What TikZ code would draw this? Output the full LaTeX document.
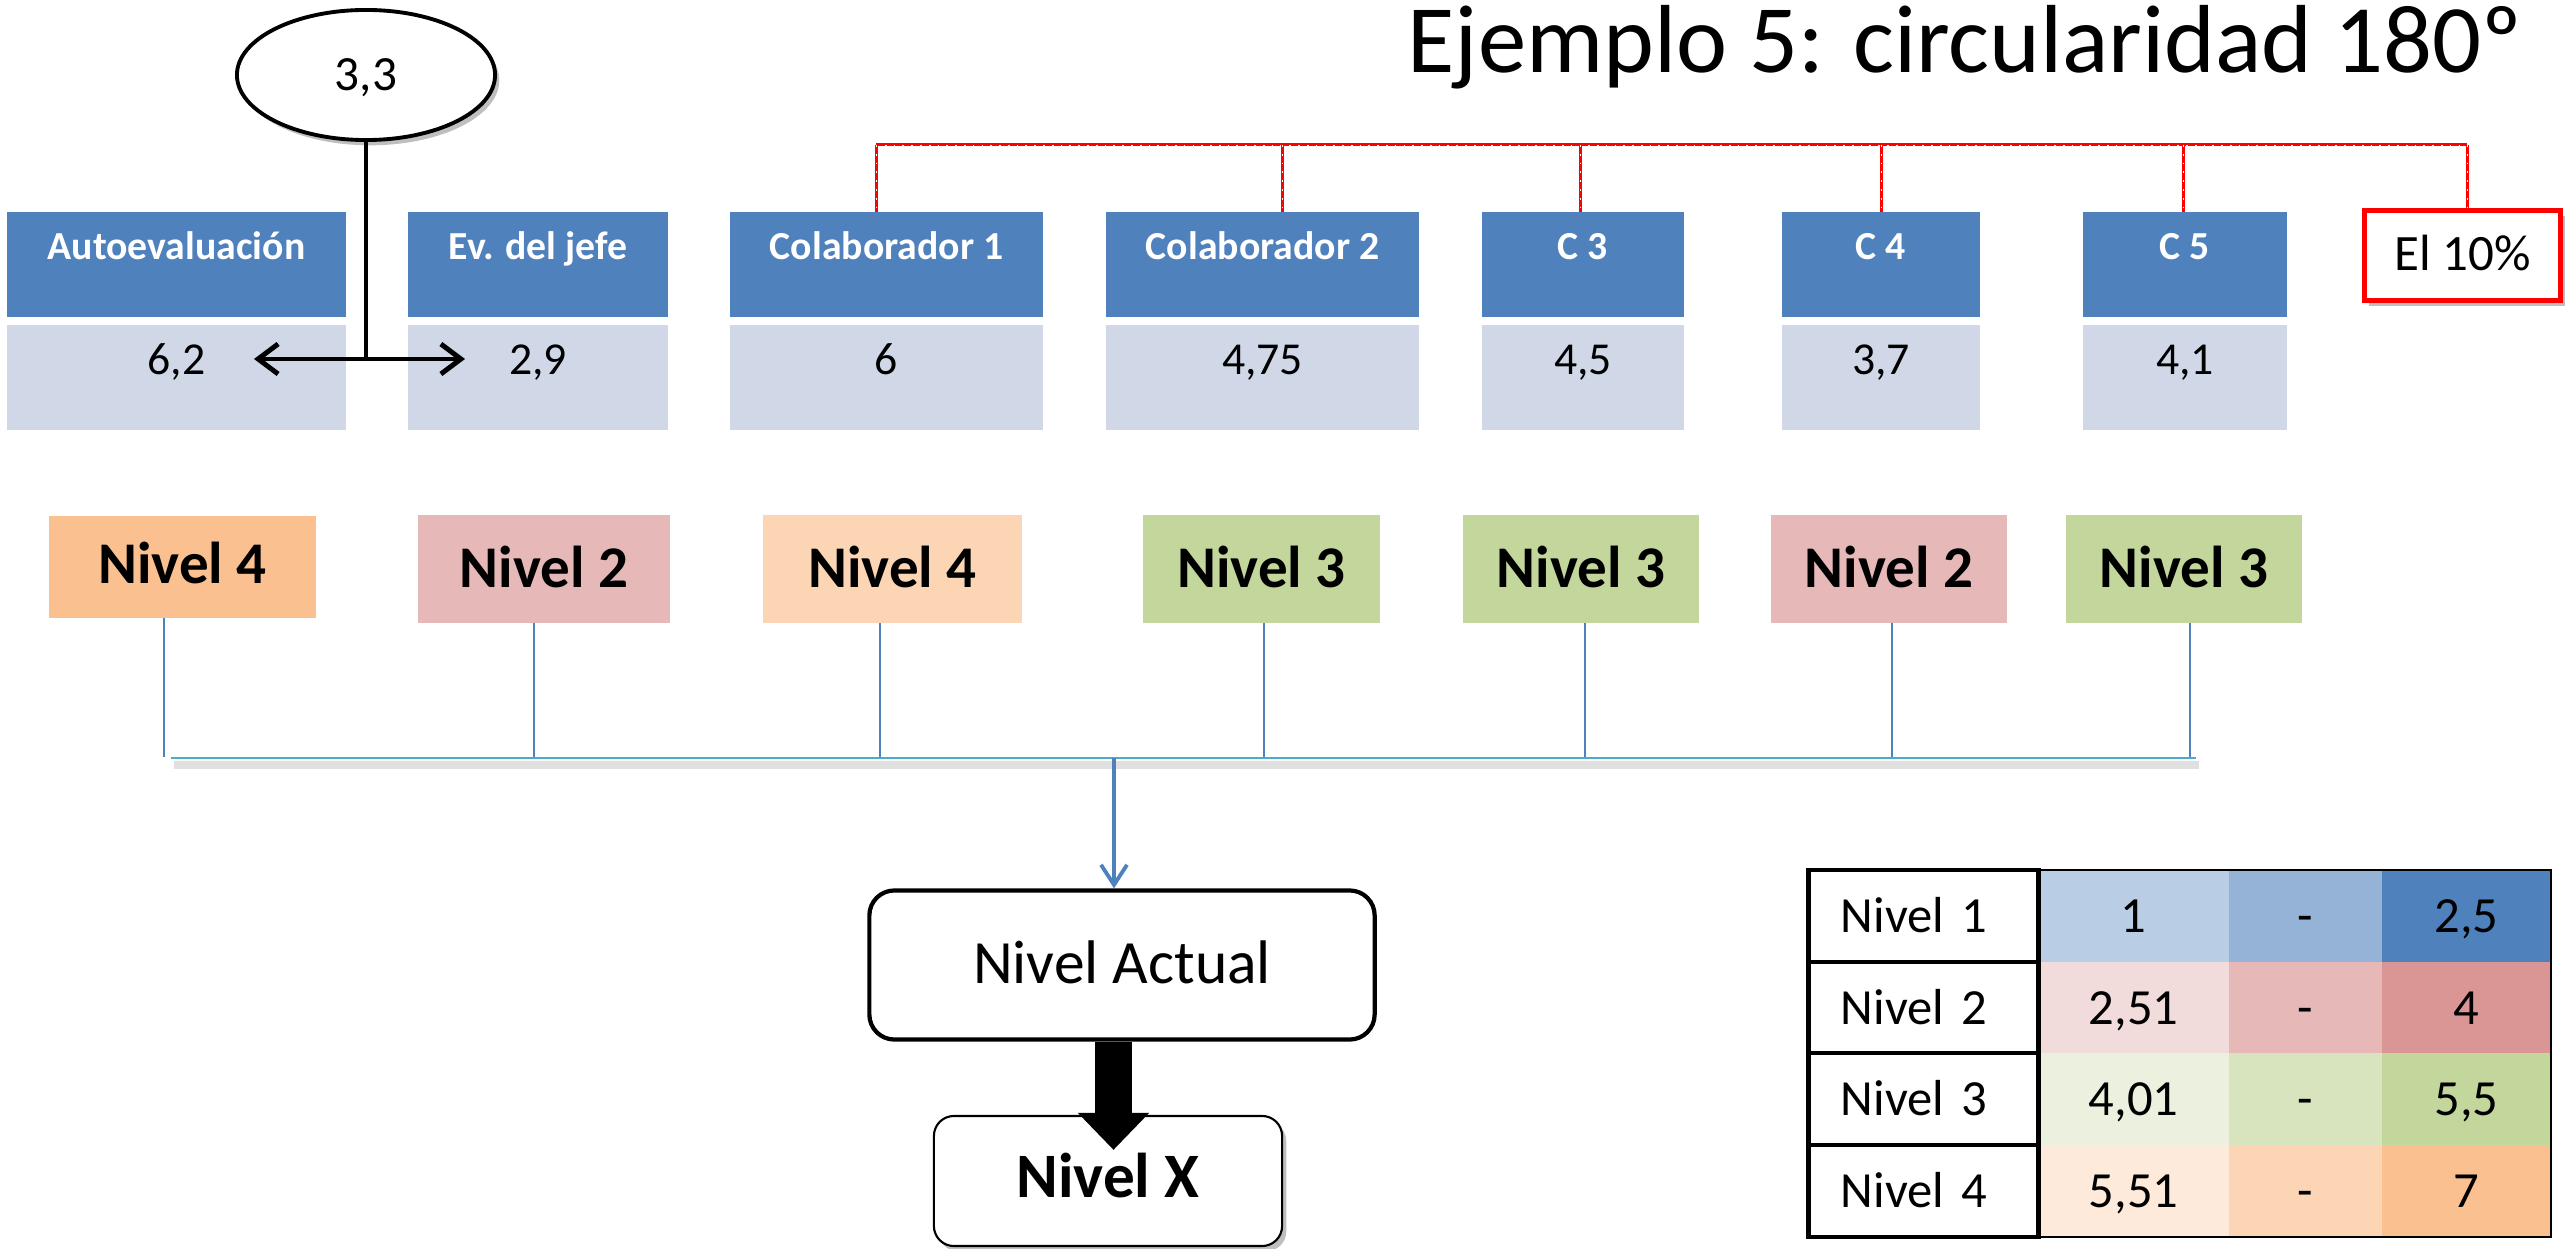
\documentclass[tikz,border=0pt]{standalone}
\usepackage{fontspec}
\setmainfont{Carlito}
\usetikzlibrary{arrows.meta,shapes.geometric,shadows,calc}
\definecolor{hdr}{HTML}{4F81BD}
\definecolor{val}{HTML}{D0D8E8}
\definecolor{orA}{HTML}{FAC090}
\definecolor{orB}{HTML}{FCD5B5}
\definecolor{orC}{HTML}{FDEADA}
\definecolor{pkA}{HTML}{D99694}
\definecolor{pkB}{HTML}{E6B9B8}
\definecolor{pkC}{HTML}{F2DCDB}
\definecolor{gnA}{HTML}{C3D69B}
\definecolor{gnB}{HTML}{D7E4BD}
\definecolor{gnC}{HTML}{EBF1DE}
\definecolor{blA}{HTML}{4F81BD}
\definecolor{blB}{HTML}{95B3D7}
\definecolor{blC}{HTML}{B9CDE5}
\definecolor{busc}{HTML}{4BACC6}
\definecolor{redl}{HTML}{FF0000}
\begin{document}
\begin{tikzpicture}[x=0.01cm,y=-0.01cm,
  hbox/.style={rectangle, inner sep=0pt, outer sep=0pt, fill=hdr, text=white,
    font=\fontsize{11.3}{13}\selectfont\bfseries, minimum height=1.05cm,
    text height=0.48cm, text depth=0.57cm},
  vbox/.style={rectangle, inner sep=0pt, outer sep=0pt, fill=val,
    font=\fontsize{13}{15}\selectfont, minimum height=1.05cm,
    text height=0.5cm, text depth=0.55cm},
  nbox/.style={rectangle, inner sep=0pt, outer sep=0pt,
    font=\fontsize{16.8}{19}\selectfont\bfseries, minimum height=1.08cm,
    text height=0.72cm, text depth=0.36cm},
  tcell/.style={rectangle, inner sep=0pt, outer sep=0pt, minimum height=0.92cm,
    text height=0.62cm, text depth=0.30cm, font=\fontsize{14.4}{17}\selectfont},
  lcell/.style={tcell, draw=black, line width=1.4pt, fill=white, minimum width=2.29cm,
    text width=1.65cm, align=left, inner xsep=0.32cm},
  redline/.style={redl, line width=0.85pt,
    postaction={draw, white, line width=0.25pt, dash pattern=on 0.5pt off 2pt}},
  thinblue/.style={hdr, line width=0.45pt},
  shad/.style={drop shadow={shadow xshift=1.2pt, shadow yshift=-1.5pt, opacity=0.25, fill=black}}
]
\useasboundingbox (0,0) rectangle (2569,1249);

% title
\node[anchor=base west, inner sep=0pt, font=\fontsize{27.5}{33}\selectfont] (title) at (1407,73)
  {Ejemplo 5: circularidad 180º};

% ellipse
\node[ellipse, draw=black, line width=1.1pt, fill=white, shad, inner sep=0pt,
  minimum width=2.58cm, minimum height=1.30cm, text height=0.30cm, text depth=0pt,
  font=\fontsize{14}{16}\selectfont] (ell) at (366,75) {3,3};

% headers
\node[hbox, minimum width=3.39cm] (h1) at (176.5,264.5) {Autoevaluación};
\node[hbox, minimum width=2.60cm] (h2) at (538,264.5) {Ev. del jefe};
\node[hbox, minimum width=3.13cm] (h3) at (886.5,264.5) {Colaborador 1};
\node[hbox, minimum width=3.13cm] (h4) at (1262.5,264.5) {Colaborador 2};
\node[hbox, minimum width=2.02cm] (h5) at (1583,264.5) {C 3};
\node[hbox, minimum width=1.98cm] (h6) at (1881,264.5) {C 4};
\node[hbox, minimum width=2.04cm] (h7) at (2185,264.5) {C 5};

% values
\node[vbox, minimum width=3.39cm] (v1) at (176.5,377.5) {6,2};
\node[vbox, minimum width=2.60cm] (v2) at (538,377.5) {2,9};
\node[vbox, minimum width=3.13cm] (v3) at (886.5,377.5) {6};
\node[vbox, minimum width=3.13cm] (v4) at (1262.5,377.5) {4,75};
\node[vbox, minimum width=2.02cm] (v5) at (1583,377.5) {4,5};
\node[vbox, minimum width=1.98cm] (v6) at (1881,377.5) {3,7};
\node[vbox, minimum width=2.04cm] (v7) at (2185,377.5) {4,1};

% El 10%
\node[rectangle, draw=redl, line width=1.4pt, fill=white, shad, inner sep=0pt,
  minimum width=1.96cm, minimum height=0.90cm, text height=0.60cm, text depth=0.30cm,
  font=\fontsize{14.5}{17}\selectfont] (el) at (2462.5,255.5) {El 10\%};

% red connectors
\coordinate (rl) at (876,145);
\coordinate (rr) at (2467,145);
\draw[redline] (rl) -- (rr);
\foreach \h/\x in {h3/876,h4/1282,h5/1580,h6/1881,h7/2183,el/2467}
  \draw[redline] (\x,145) -- (\x,0 |- \h.north);

% ellipse connector and double arrow
\coordinate (J) at (366,359);
\coordinate (AL) at (254,359);
\coordinate (AR) at (465,359);
\draw[line width=1.1pt] (ell.south) -- (J);
\draw[line width=1.4pt, {Straight Barb[length=0.2cm,width=0.3cm]}-{Straight Barb[length=0.2cm,width=0.3cm]}] (AL) -- (AR);

% nivel boxes
\node[nbox, fill=orA, minimum width=2.67cm, minimum height=1.02cm, text height=0.67cm, text depth=0.35cm] (n1) at (182.5,567) {Nivel 4};
\node[nbox, fill=pkB, minimum width=2.52cm] (n2) at (544,569) {Nivel 2};
\node[nbox, fill=orB, minimum width=2.59cm] (n3) at (892.5,569) {Nivel 4};
\node[nbox, fill=gnA, minimum width=2.37cm] (n4) at (1261.5,569) {Nivel 3};
\node[nbox, fill=gnA, minimum width=2.36cm] (n5) at (1581,569) {Nivel 3};
\node[nbox, fill=pkB, minimum width=2.36cm] (n6) at (1889,569) {Nivel 2};
\node[nbox, fill=gnA, minimum width=2.36cm] (n7) at (2184,569) {Nivel 3};

% bus
\coordinate (busL) at (171,758);
\coordinate (busR) at (2196,758);
\draw[black!12, line width=2pt] ($(busL)+(3,7)$) -- ($(busR)+(3,7)$);
\foreach \n/\x in {n1/164,n2/534,n3/880,n4/1264,n5/1585,n6/1892,n7/2190}
  \draw[thinblue] (\x,0 |- \n.south) -- (\x,757);
\draw[busc, line width=0.85pt] (busL) -- (busR);

% nivel actual & nivel X
\node[rectangle, rounded corners=0.25cm, draw=black, line width=1.2pt, fill=white, inner sep=0pt,
  minimum width=5.05cm, minimum height=1.49cm, text height=0.93cm, text depth=0.56cm,
  font=\fontsize{17.5}{20}\selectfont] (na) at (1122,965) {Nivel Actual};
\node[rectangle, rounded corners=0.2cm, draw=black, line width=0.6pt, fill=white, shad, inner sep=0pt,
  minimum width=3.48cm, minimum height=1.30cm, text height=0.81cm, text depth=0.49cm,
  font=\fontsize{18}{21}\selectfont\bfseries] (nx) at (1108,1181) {Nivel X};

\coordinate (bustap) at (1114,758);
\draw[hdr, line width=1.1pt, -{Straight Barb[length=0.2cm,width=0.26cm]}] (bustap) -- (1114,0 |- na.north);
\draw[line width=0.37cm, -{Triangle[length=0.37cm,width=0.69cm]}] (1113.5,0 |- na.south) -- ($(1113.5,0 |- nx.north)+(0,35)$);

% table
\node[tcell, fill=blC, minimum width=1.91cm] (r1c2) at (2133.5,916) {1};
\node[tcell, fill=blB, minimum width=1.53cm] (r1c3) at (2305.5,916) {-};
\node[tcell, fill=blA, minimum width=1.69cm] (r1c4) at (2466.5,916) {2,5};
\node[tcell, fill=pkC, minimum width=1.91cm] (r2c2) at (2133.5,1008) {2,51};
\node[tcell, fill=pkB, minimum width=1.53cm] (r2c3) at (2305.5,1008) {-};
\node[tcell, fill=pkA, minimum width=1.69cm] (r2c4) at (2466.5,1008) {4};
\node[tcell, fill=gnC, minimum width=1.91cm] (r3c2) at (2133.5,1099) {4,01};
\node[tcell, fill=gnB, minimum width=1.53cm] (r3c3) at (2305.5,1099) {-};
\node[tcell, fill=gnA, minimum width=1.69cm] (r3c4) at (2466.5,1099) {5,5};
\node[tcell, fill=orC, minimum width=1.91cm] (r4c2) at (2133.5,1191) {5,51};
\node[tcell, fill=orB, minimum width=1.53cm] (r4c3) at (2305.5,1191) {-};
\node[tcell, fill=orA, minimum width=1.69cm] (r4c4) at (2466.5,1191) {7};
\draw[black, line width=0.5pt] (r1c2.north west) rectangle (r4c4.south east);
\node[lcell] (r1c1) at (1923.5,916) {Nivel 1};
\node[lcell] (r2c1) at (1923.5,1008) {Nivel 2};
\node[lcell] (r3c1) at (1923.5,1099) {Nivel 3};
\node[lcell] (r4c1) at (1923.5,1191) {Nivel 4};
\end{tikzpicture}
\end{document}
